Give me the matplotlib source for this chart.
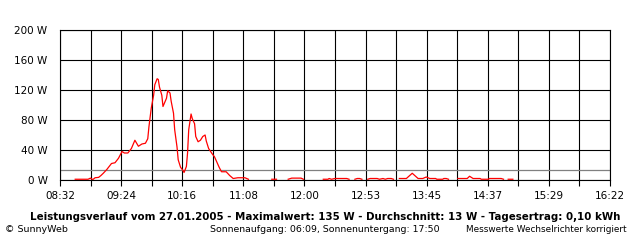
import numpy as np
import matplotlib
matplotlib.use("Agg")
import matplotlib.pyplot as plt

# ---- Daten ----
zeiten = [
    "08:45", "08:56", "08:58", "09:00", "09:02", "09:05", "09:07", "09:09", "09:12", "09:14",
    "09:16", "09:19", "09:22", "09:25", "09:27", "09:30", "09:33", "09:36", "09:39", "09:42",
    "09:45", "09:47", "09:48", "09:50", "09:52", "09:53", "09:55", "09:56", "09:57", "09:59",
    "10:00", "10:03", "10:04", "10:06", "10:07", "10:09", "10:10", "10:12", "10:13", "10:15",
    "10:17", "10:18", "10:20", "10:21", "10:22", "10:24", "10:25", "10:27", "10:28", "10:30",
    "10:32", "10:34", "10:36", "10:37", "10:39", "10:42", "10:44", "10:46", "10:48", "10:50",
    "10:54", "10:57", "11:00", "11:04", "11:10", "11:13", "11:20",
    "11:33", "11:37", "11:42",
    "11:47", "11:50", "11:58", "12:00", "12:08",
    "12:17", "12:21", "12:22", "12:24", "12:27", "12:33", "12:37", "12:39", "12:41",
    "12:44", "12:46", "12:48", "12:50", "12:52",
    "12:55", "12:57", "13:03", "13:05", "13:08", "13:10", "13:12", "13:15", "13:17", "13:19",
    "13:22", "13:28", "13:33", "13:38", "13:42", "13:45", "13:48", "13:53", "13:54", "13:59",
    "14:00", "14:02", "14:04", "14:08",
    "14:12", "14:20", "14:22", "14:25", "14:31", "14:32", "14:38", "14:39", "14:49", "14:51",
    "14:53",
    "14:55", "14:59",
]
leistung = [
    1, 1, 2.5, 0.5, 3, 3.5, 6, 9, 14, 18,
    22, 23, 29, 38, 36, 36, 42, 53, 45, 48,
    49, 55, 71, 96, 113, 127, 135, 134, 124, 113,
    98, 109, 119, 116, 105, 89, 67, 44, 27, 17,
    13, 10, 18, 36, 67, 88, 82, 75, 58, 51,
    53, 58, 60, 52, 42, 35, 31, 24, 17, 11,
    11, 6, 2, 3, 3, 1, np.nan,
    1, 1, np.nan,
    1, 2.5, 2.5, 1, np.nan,
    1, 1, 2, 1, 2, 2, 2, 1, np.nan,
    1, 2, 2, 1, np.nan,
    1, 2, 2, 1, 2, 1, 2, 2, 1, np.nan,
    2, 2, 9, 2, 2, 4, 2, 2, 1, 1,
    2, 2, 1, np.nan,
    2, 2, 5, 2, 2, 1, 1, 2, 2, 1,
    np.nan,
    1, 1,
]
durchschnitt = 13

x_labels = ["08:32", "09:24", "10:16", "11:08", "12:00",
            "12:53", "13:45", "14:37", "15:29", "16:22"]
y_werte = [0, 40, 80, 120, 160, 200]


def minuten(s):
    h, m = s.split(":")
    return int(h) * 60 + int(m)


t = np.array([minuten(z) for z in zeiten], dtype=float)
p = np.array(leistung, dtype=float)

plt.rcParams['font.family'] = ['DejaVu Sans']
fig = plt.figure(figsize=(6.4, 2.4), dpi=100)
ax = fig.add_axes([60 / 640, 60 / 240, 550 / 640, 150 / 240])

t0 = minuten(x_labels[0])
t1 = minuten(x_labels[-1])
ax.set_xlim(t0, t1)
ax.set_ylim(0, 200)

# Gitter
ticks = np.linspace(t0, t1, 19)
ax.set_xticks(ticks)
ax.set_xticklabels([x_labels[i // 2] if i % 2 == 0 else "" for i in range(19)])
ax.set_yticks(y_werte)
ax.set_yticklabels([f"{v} W" for v in y_werte])
ax.grid(True, color="black", linewidth=0.8)
ax.set_axisbelow(True)

ax.tick_params(axis="x", length=4, width=0.8, direction="out", pad=4, labelsize=7.5)
ax.tick_params(axis="y", length=0, pad=9, labelsize=7.5)
for s in ax.spines.values():
    s.set_color("black")
    s.set_linewidth(0.8)

ax.axhline(durchschnitt, color="#808080", linewidth=0.9, zorder=2)
ax.plot(t, p, color="red", linewidth=0.9, zorder=3)

fig.text(0.508, 0.095,
         "Leistungsverlauf vom 27.01.2005 - Maximalwert: 135 W - Durchschnitt: 13 W - Tagesertrag: 0,10 kWh",
         ha="center", va="center", fontsize=7.35, fontweight="bold")
fig.text(0.008, 0.045, "© SunnyWeb", ha="left", va="center", fontsize=6.8)
fig.text(0.508, 0.045, "Sonnenaufgang: 06:09, Sonnenuntergang: 17:50",
         ha="center", va="center", fontsize=6.75)
fig.text(0.979, 0.045, "Messwerte Wechselrichter korrigiert",
         ha="right", va="center", fontsize=6.4)

fig.savefig("out.png", dpi=100)
